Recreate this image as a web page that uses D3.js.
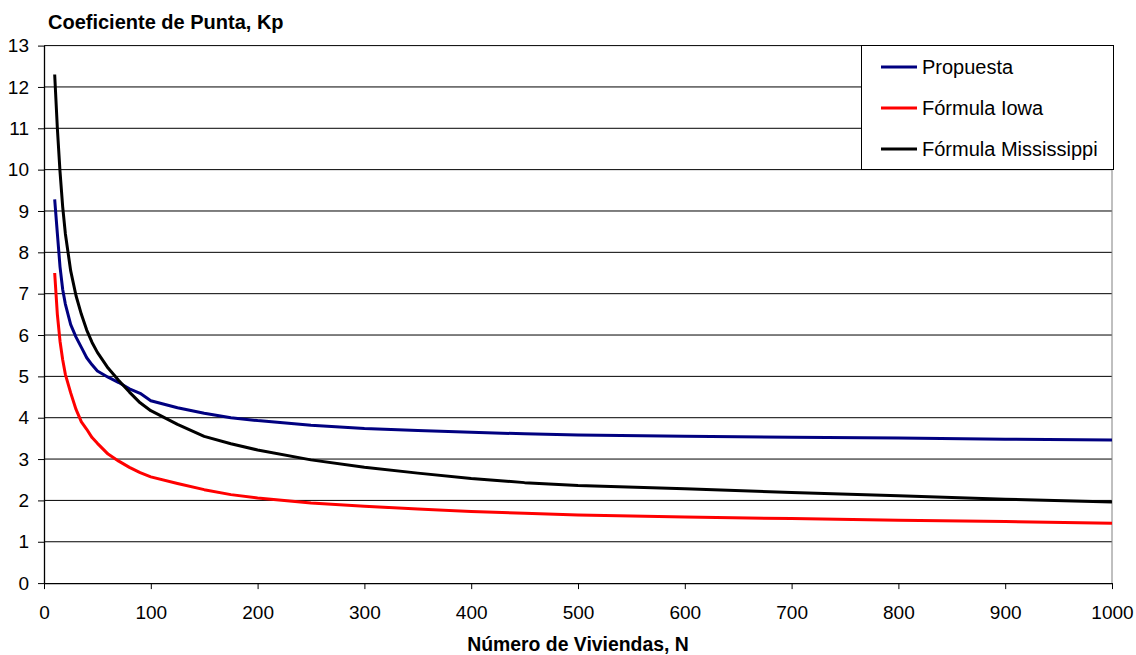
<!DOCTYPE html>
<html>
<head>
<meta charset="utf-8">
<script src="https://cdn.jsdelivr.net/npm/d3@7"></script>
<style>
  html, body { margin: 0; padding: 0; background: #fff; }
  svg { display: block; font-family: "Liberation Sans", Arial, sans-serif; }
</style>
</head>
<body>
<svg id="chart" width="1136" height="655"></svg>
<script>
// ---- Data ----
const viviendas = [10, 12.5, 15, 17.5, 20, 25, 30, 35, 40, 45, 50, 60, 70, 80, 90, 100, 125, 150, 175, 200, 250, 300, 350, 400, 450, 500, 600, 700, 800, 900, 1000];
const propuesta = [9.28, 8.46, 7.65, 7.1, 6.75, 6.25, 5.95, 5.7, 5.45, 5.28, 5.13, 4.98, 4.85, 4.7, 4.59, 4.41, 4.24, 4.11, 4.0, 3.93, 3.82, 3.74, 3.69, 3.65, 3.61, 3.58, 3.55, 3.53, 3.51, 3.48, 3.46];
const iowa = [7.5, 6.5, 5.85, 5.4, 5.05, 4.6, 4.2, 3.9, 3.72, 3.52, 3.38, 3.12, 2.95, 2.8, 2.67, 2.57, 2.41, 2.26, 2.14, 2.06, 1.94, 1.86, 1.79, 1.73, 1.69, 1.65, 1.6, 1.56, 1.52, 1.49, 1.45];
const mississippi = [12.3, 11.0, 9.95, 9.1, 8.45, 7.55, 6.95, 6.5, 6.12, 5.82, 5.58, 5.2, 4.9, 4.62, 4.36, 4.17, 3.84, 3.55, 3.37, 3.22, 2.98, 2.8, 2.66, 2.53, 2.43, 2.36, 2.28, 2.19, 2.11, 2.03, 1.96];
const seriesNames = ["Propuesta", "Fórmula Iowa", "Fórmula Mississippi"];
const seriesColors = ["#000080", "#FF0000", "#000000"];
const xTicks = [0, 100, 200, 300, 400, 500, 600, 700, 800, 900, 1000];
const yTicks = [0, 1, 2, 3, 4, 5, 6, 7, 8, 9, 10, 11, 12, 13];
const yTitle = "Coeficiente de Punta, Kp";
const xTitle = "Número de Viviendas, N";

// ---- Layout ----
const svg = d3.select("#chart");
const pLeft = 44, pRight = 1112, pTop = 45.6, pBottom = 583.1;
const FONT = 19;

const x = d3.scaleLinear().domain([0, 1000]).range([pLeft, pRight]);
const y = d3.scaleLinear().domain([0, 13]).range([pBottom, pTop]);

// gridlines
svg.append("g").selectAll("line").data(yTicks.filter(d => d > 0)).join("line")
  .attr("x1", pLeft).attr("x2", pRight)
  .attr("y1", d => y(d)).attr("y2", d => y(d))
  .attr("stroke", "#000").attr("stroke-width", 1);

// right border of plot area
svg.append("line").attr("x1", pRight).attr("x2", pRight).attr("y1", pTop).attr("y2", pBottom)
  .attr("stroke", "#808080").attr("stroke-width", 1);

// axes
const xAxis = svg.append("g").attr("transform", `translate(0,${pBottom})`)
  .call(d3.axisBottom(x).tickValues(xTicks).tickFormat(d3.format("d")).tickSize(6).tickSizeOuter(0).tickPadding(16.5));
const yAxis = svg.append("g").attr("transform", `translate(${pLeft},0)`)
  .call(d3.axisLeft(y).tickValues(yTicks).tickFormat(d3.format("d")).tickSize(6).tickSizeOuter(0).tickPadding(9));
[xAxis, yAxis].forEach(g => {
  g.select(".domain").attr("stroke", "#000").attr("stroke-width", 1.3);
  g.selectAll(".tick line").attr("stroke", "#000");
  g.selectAll("text").attr("font-size", FONT).attr("fill", "#000")
    .attr("font-family", "'Liberation Sans', Arial, sans-serif");
});

// lines
const allSeries = [propuesta, iowa, mississippi];
const line = d3.line().x((d, i) => x(viviendas[i])).y(d => y(d));
allSeries.forEach((vals, k) => {
  svg.append("path").datum(vals)
    .attr("d", line)
    .attr("fill", "none")
    .attr("stroke", seriesColors[k])
    .attr("stroke-width", 3)
    .attr("stroke-linejoin", "round");
});

// axis titles
svg.append("text").attr("x", 48).attr("y", 29)
  .attr("font-size", 20).attr("font-weight", "bold").text(yTitle);
svg.append("text").attr("x", (pLeft + pRight) / 2).attr("y", 651)
  .attr("text-anchor", "middle")
  .attr("font-size", 19.4).attr("font-weight", "bold").text(xTitle);

// legend
const lg = svg.append("g");
lg.append("rect").attr("x", 861.5).attr("y", 45.5).attr("width", 252).attr("height", 124)
  .attr("fill", "#fff").attr("stroke", "#000").attr("stroke-width", 1);
seriesNames.forEach((name, k) => {
  const cy = 67 + k * 41;
  lg.append("line").attr("x1", 881).attr("x2", 917).attr("y1", cy).attr("y2", cy)
    .attr("stroke", seriesColors[k]).attr("stroke-width", 3);
  lg.append("text").attr("x", 922).attr("y", cy + 7)
    .attr("font-size", 20).text(name);
});
</script>
</body>
</html>
